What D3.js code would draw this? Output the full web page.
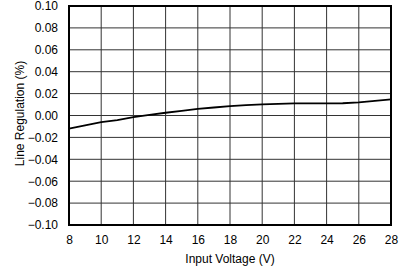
<!DOCTYPE html>
<html>
<head>
<meta charset="utf-8">
<script src="https://cdn.jsdelivr.net/npm/d3@7"></script>
<style>
  body { margin: 0; background: #fff; }
  svg { display: block; font-family: "Liberation Sans", Arial, sans-serif; }
</style>
</head>
<body>
<div id="chart"></div>
<script>
const inputVoltage = [8, 9, 10, 11, 12, 13, 14, 15, 16, 17, 18, 19, 20, 21, 22, 23, 24, 25, 26, 27, 28];
const lineRegulation = [-0.012, -0.009, -0.006, -0.0042, -0.0015, 0.0005, 0.0025, 0.0042, 0.006, 0.0073,
    0.0085, 0.0095, 0.0101, 0.0106, 0.011, 0.011, 0.011, 0.0112, 0.012, 0.0133, 0.0148];
const xTicks = [8, 10, 12, 14, 16, 18, 20, 22, 24, 26, 28];
const yTicks = [-0.10, -0.08, -0.06, -0.04, -0.02, 0.00, 0.02, 0.04, 0.06, 0.08, 0.10];

const width = 415, height = 266;
const margin = { top: 6, right: 24, bottom: 41, left: 69 };

const x = d3.scaleLinear()
    .domain([8, 28])
    .range([margin.left, width - margin.right]);

const y = d3.scaleLinear()
    .domain([-0.10, 0.10])
    .range([height - margin.bottom, margin.top]);

const svg = d3.select("#chart")
    .append("svg")
    .attr("width", width)
    .attr("height", height);

// grid
svg.append("g")
    .attr("stroke", "#333")
    .attr("stroke-width", 1)
    .call(g => g.selectAll(".vx")
        .data(xTicks)
        .join("line")
        .attr("x1", d => x(d)).attr("x2", d => x(d))
        .attr("y1", y(-0.10)).attr("y2", y(0.10)))
    .call(g => g.selectAll(".hy")
        .data(yTicks)
        .join("line")
        .attr("y1", d => y(d)).attr("y2", d => y(d))
        .attr("x1", x(8)).attr("x2", x(28)));

// axes, labels only
const fmt = d => (d < 0 ? "\u2212" : "") + Math.abs(d).toFixed(2);

svg.append("g")
    .attr("transform", `translate(0,${y(-0.10)})`)
    .call(d3.axisBottom(x).tickValues(xTicks).tickSize(0).tickPadding(10))
    .call(g => g.select(".domain").remove())
    .call(g => g.selectAll("text").attr("font-size", 12).attr("fill", "#000").attr("font-family", null));

svg.append("g")
    .attr("transform", `translate(${x(8)},0)`)
    .call(d3.axisLeft(y).tickValues(yTicks).tickFormat(fmt).tickSize(0).tickPadding(11))
    .call(g => g.select(".domain").remove())
    .call(g => g.selectAll("text").attr("font-size", 12).attr("fill", "#000").attr("font-family", null));

// frame
svg.append("rect")
    .attr("x", x(8)).attr("y", y(0.10))
    .attr("width", x(28) - x(8))
    .attr("height", y(-0.10) - y(0.10))
    .attr("fill", "none")
    .attr("stroke", "#000")
    .attr("stroke-width", 2);

// data line
const line = d3.line()
    .x((d, i) => x(inputVoltage[i]))
    .y(d => y(d));

svg.append("path")
    .datum(lineRegulation)
    .attr("fill", "none")
    .attr("stroke", "#000")
    .attr("stroke-width", 1.8)
    .attr("d", line);

// titles
svg.append("text")
    .attr("x", (x(8) + x(28)) / 2)
    .attr("y", 263)
    .attr("text-anchor", "middle")
    .attr("font-size", 12)
    .text("Input Voltage (V)");

svg.append("text")
    .attr("transform", `translate(24,${(y(0.10) + y(-0.10)) / 2 - 2}) rotate(-90)`)
    .attr("text-anchor", "middle")
    .attr("font-size", 12)
    .text("Line Regulation (%)");
</script>
</body>
</html>
